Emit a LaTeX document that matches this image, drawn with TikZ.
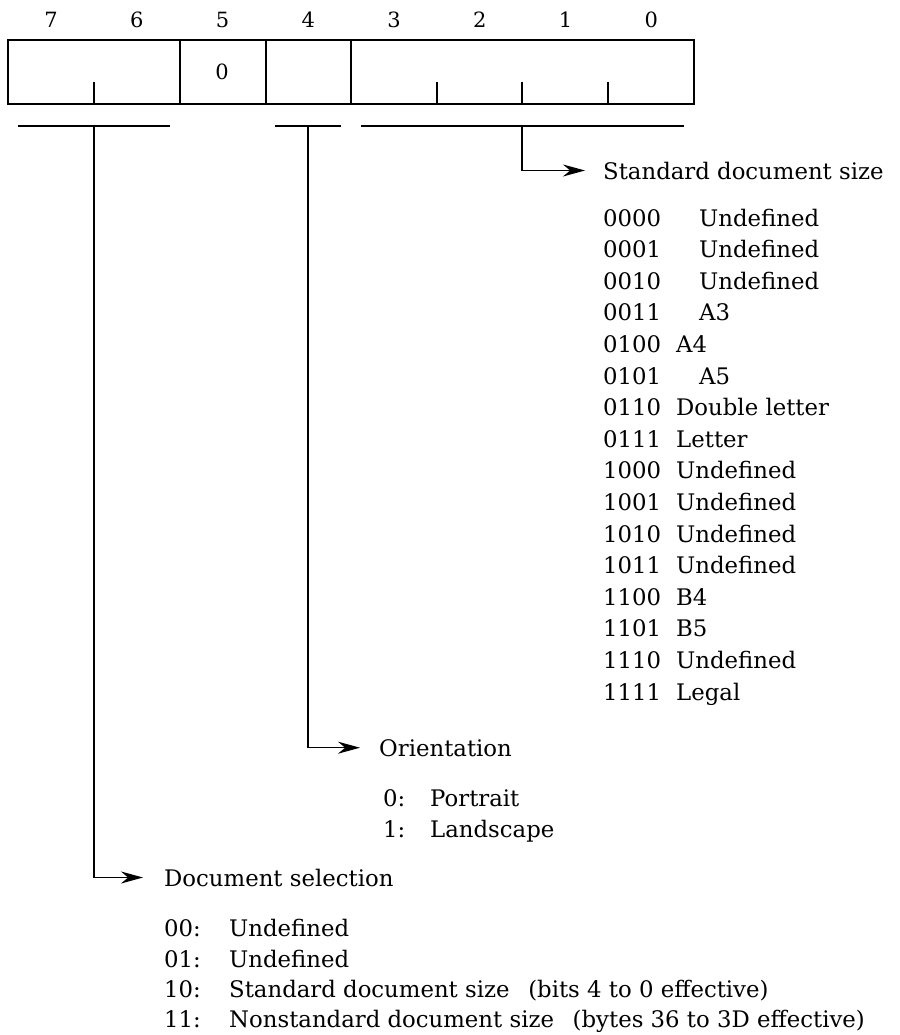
\documentclass[tikz,border=0pt]{standalone}
\usepackage{fontspec}
\setmainfont{DejaVu Serif}
\usetikzlibrary{arrows.meta}
\tikzset{
  txt/.style={anchor=base west, inner sep=0pt, font=\fontsize{22.8}{27}\selectfont},
  bitnum/.style={inner sep=0pt, font=\fontsize{21}{25}\selectfont},
  frame/.style={line width=1.5pt},
  arr/.style={line width=1.4pt, -{Stealth[length=22pt,width=12pt]}},
}
\begin{document}
\begin{tikzpicture}[x=1pt, y=-1pt]
    \useasboundingbox (0,0) rectangle (899,1035);

    % Bit numbers
    \foreach \b [count=\i from 0] in {7,6,5,4,3,2,1,0}
        \node[bitnum] (bit\b) at (51+85.75*\i, 20) {\b};

    % Register box
    \draw[frame] (8,40) rectangle (694,104);
    \draw[frame] (180,40) -- (180,104);
    \draw[frame] (266,40) -- (266,104);
    \draw[frame] (351,40) -- (351,104);
    \foreach \x in {94,437,522,608}
        \draw[frame] (\x,82) -- (\x,104);
    \node[bitnum] (fix) at (222,72) {0};

    % Brackets under the fields
    \draw[frame] (18,126) -- (170,126);
    \draw[frame] (275,126) -- (341,126);
    \draw[frame] (361,126) -- (684,126);
    \coordinate (sel76) at (94,126);
    \coordinate (ori4) at (308,126);
    \coordinate (size30) at (522,126);

    % Labels
    \node[txt] (size) at (603,179) {Standard document size};
    \node[txt] (ori) at (379,756) {Orientation};
    \node[txt] (sel) at (164,886) {Document selection};

    % Arrows
    \draw[arr] (size30) |- ([xshift=-18pt]size.west);
    \draw[arr] (ori4) |- ([xshift=-19pt]ori.west);
    \draw[arr] (sel76) |- ([xshift=-21pt]sel.west);

    % Standard document size codes
    \foreach \code/\name/\lx [count=\i from 0] in {
        0000/Undefined/699, 0001/Undefined/699, 0010/Undefined/699,
        0011/A3/699, 0100/A4/676, 0101/A5/699, 0110/Double letter/676,
        0111/Letter/676, 1000/Undefined/676, 1001/Undefined/676,
        1010/Undefined/676, 1011/Undefined/676, 1100/B4/676,
        1101/B5/676, 1110/Undefined/676, 1111/Legal/676} {
        \node[txt] (sc\i) at (603, 226+31.6*\i) {\code};
        \node[txt] (sn\i) at (\lx, 226+31.6*\i) {\name};
    }

    % Orientation values
    \node[txt] (oc0) at (383,806) {0:};
    \node[txt] (on0) at (430,806) {Portrait};
    \node[txt] (oc1) at (383,837) {1:};
    \node[txt] (on1) at (430,837) {Landscape};

    % Document selection values
    \node[txt] (dc0) at (164,936) {00:};
    \node[txt] (dn0) at (229,936) {Undefined};
    \node[txt] (dc1) at (164,967) {01:};
    \node[txt] (dn1) at (229,967) {Undefined};
    \node[txt] (dc2) at (164,997) {10:};
    \node[txt] (dn2) at (229,997) {Standard document size\hspace{0.5em} (bits 4 to 0 effective)};
    \node[txt] (dc3) at (164,1027) {11:};
    \node[txt] (dn3) at (229,1027) {Nonstandard document size\hspace{0.5em} (bytes 36 to 3D effective)};
\end{tikzpicture}
\end{document}
